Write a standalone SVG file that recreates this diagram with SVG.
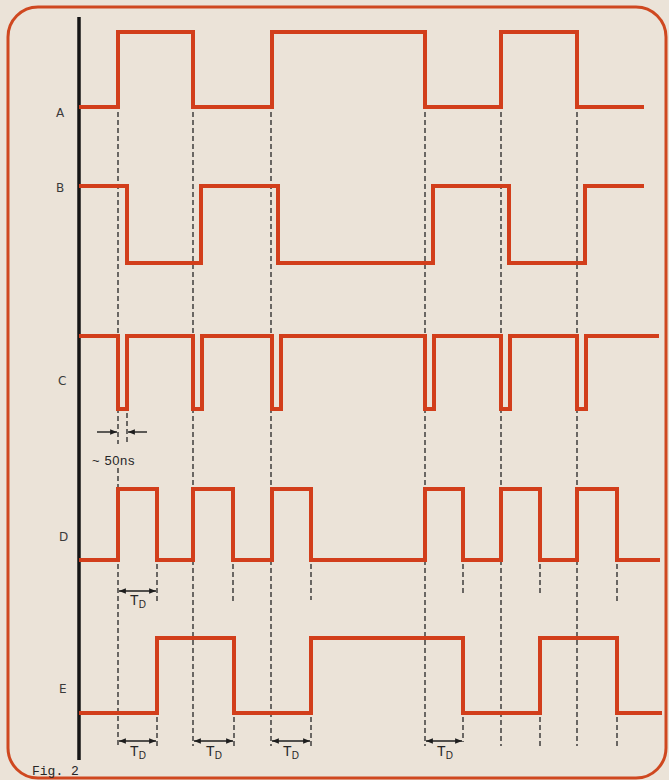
<svg xmlns="http://www.w3.org/2000/svg" width="669" height="780" viewBox="0 0 669 780">
<defs>
<marker id="ah" viewBox="0 0 10 8" refX="10" refY="4" markerWidth="7" markerHeight="5.5" markerUnits="userSpaceOnUse" orient="auto-start-reverse">
<path d="M0,0 L10,4 L0,8 z" fill="#1e1e1e"/>
</marker>
<style>
.wave{fill:none;stroke:#d23e1b;stroke-width:4;stroke-linejoin:miter;stroke-linecap:square}
.dash{stroke:#262626;stroke-width:1.3;stroke-dasharray:5 3;fill:none}
.arr{stroke:#1e1e1e;stroke-width:1.4;fill:none;marker-start:url(#ah);marker-end:url(#ah)}
.arr1{stroke:#1e1e1e;stroke-width:1.4;fill:none;marker-end:url(#ah)}
.lbl{font-family:"DejaVu Sans","Liberation Sans",sans-serif;font-size:12px;fill:#3a3a3a}
.td{font-family:"Liberation Sans",sans-serif;font-size:14px;fill:#262626}
.ns{font-family:"Liberation Sans",sans-serif;font-size:13px;fill:#262626;letter-spacing:0.6px}
.fig{font-family:"Liberation Mono",monospace;font-size:13px;fill:#262626}
</style>
</defs>
<rect x="0" y="0" width="669" height="780" fill="#ebe3d8"/>
<rect id="frame" x="8" y="7" width="658" height="771" rx="30" ry="30" fill="#ebe3d8" stroke="#cf4820" stroke-width="3"/>
<line id="axis" x1="79" y1="17" x2="79" y2="760" stroke="#151515" stroke-width="3.5"/>

<g id="connectors">
<line class="dash" x1="118" y1="112" x2="118" y2="444"/>
<line class="dash" x1="118" y1="468" x2="118" y2="746"/>
<line class="dash" x1="193" y1="112" x2="193" y2="746"/>
<line class="dash" x1="271" y1="112" x2="271" y2="746"/>
<line class="dash" x1="425" y1="112" x2="425" y2="746"/>
<line class="dash" x1="501" y1="112" x2="501" y2="746"/>
<line class="dash" x1="577" y1="112" x2="577" y2="746"/>
<line class="dash" x1="127" y1="413" x2="127" y2="443"/>
<line class="dash" x1="157" y1="564" x2="157" y2="604"/>
<line class="dash" x1="233" y1="564" x2="233" y2="604"/>
<line class="dash" x1="311" y1="564" x2="311" y2="600"/>
<line class="dash" x1="463" y1="564" x2="463" y2="596"/>
<line class="dash" x1="540" y1="564" x2="540" y2="596"/>
<line class="dash" x1="617" y1="564" x2="617" y2="604"/>
<line class="dash" x1="157" y1="717" x2="157" y2="746"/>
<line class="dash" x1="234" y1="717" x2="234" y2="746"/>
<line class="dash" x1="311" y1="717" x2="311" y2="746"/>
<line class="dash" x1="463" y1="717" x2="463" y2="742"/>
<line class="dash" x1="540" y1="717" x2="540" y2="746"/>
<line class="dash" x1="617" y1="717" x2="617" y2="746"/>
<line class="arr1" x1="97" y1="432" x2="117" y2="432"/>
<line class="arr1" x1="147" y1="432" x2="128" y2="432"/>
<line class="arr" x1="119" y1="591" x2="156" y2="591"/>
<line class="arr" x1="119" y1="741" x2="156" y2="741"/>
<line class="arr" x1="194" y1="741" x2="233" y2="741"/>
<line class="arr" x1="272" y1="741" x2="310" y2="741"/>
<line class="arr" x1="426" y1="741" x2="462" y2="741"/>
</g>

<g id="A">
<text class="lbl" x="56" y="117">A</text>
<path class="wave" d="M81,107 H118 V32 H193 V107 H272 V32 H425 V107 H501 V32 H577 V107 H642"/>
</g>
<g id="B">
<text class="lbl" x="56" y="192">B</text>
<path class="wave" d="M81,186 H127 V263 H201 V186 H278 V263 H433 V186 H509 V263 H585 V186 H642"/>
</g>
<g id="C">
<text class="lbl" x="58" y="385">C</text>
<path class="wave" d="M81,336 H118 V409 H127 V336 H193 V409 H202 V336 H272 V409 H281 V336 H425 V409 H434 V336 H501 V409 H510 V336 H577 V409 H586 V336 H657"/>
</g>
<g id="D">
<text class="lbl" x="59" y="541">D</text>
<path class="wave" d="M81,560 H118 V489 H157 V560 H193 V489 H233 V560 H272 V489 H311 V560 H425 V489 H463 V560 H501 V489 H540 V560 H577 V489 H617 V560 H658"/>
</g>
<g id="E">
<text class="lbl" x="59" y="693">E</text>
<path class="wave" d="M81,713 H157 V638 H234 V713 H311 V638 H463 V713 H540 V638 H617 V713 H660"/>
</g>

<g id="labels">
<text class="ns" x="92" y="465">~ 50ns</text>
<text class="td" x="138" y="605" text-anchor="middle">T<tspan font-size="10" dy="3">D</tspan></text>
<text class="td" x="138" y="756" text-anchor="middle">T<tspan font-size="10" dy="3">D</tspan></text>
<text class="td" x="214" y="756" text-anchor="middle">T<tspan font-size="10" dy="3">D</tspan></text>
<text class="td" x="291" y="756" text-anchor="middle">T<tspan font-size="10" dy="3">D</tspan></text>
<text class="td" x="445" y="756" text-anchor="middle">T<tspan font-size="10" dy="3">D</tspan></text>
<text class="fig" x="32" y="775">Fig. 2</text>
</g>
</svg>
